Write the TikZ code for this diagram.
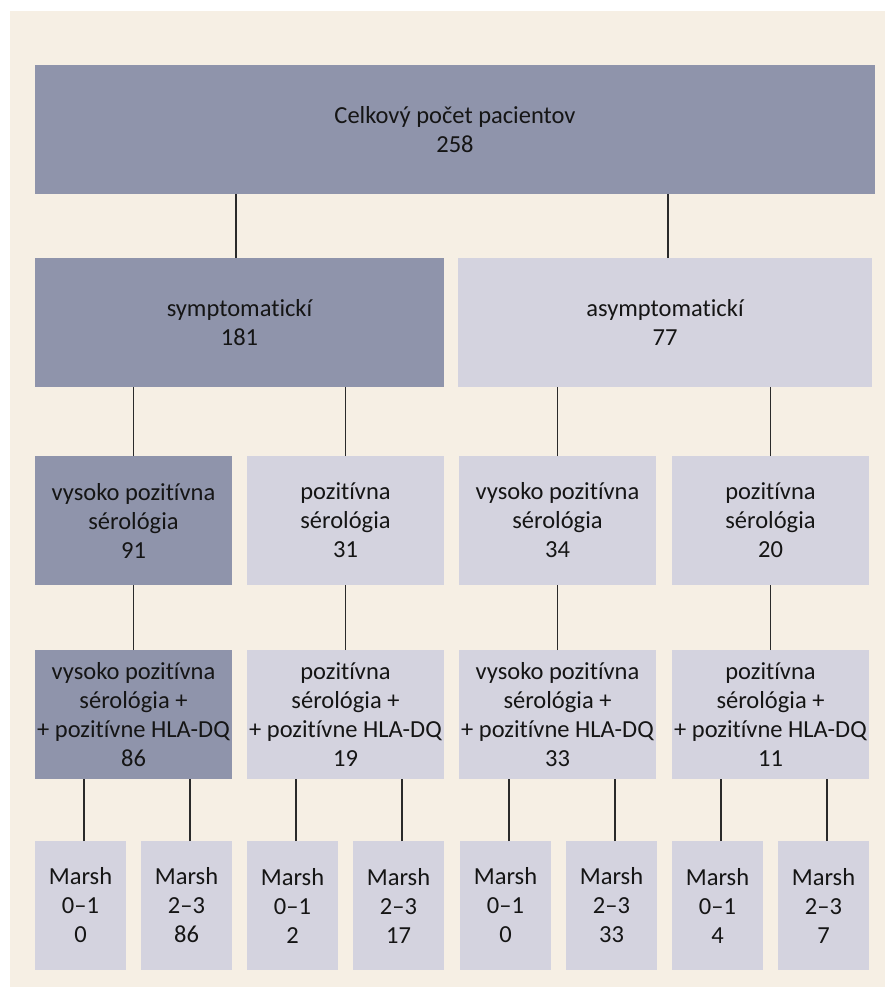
\documentclass[tikz,border=0pt]{standalone}
\usepackage{fontspec}
\setmainfont{Carlito}[Ligatures={NoCommon}]
\definecolor{bgc}{HTML}{F6EFE4}
\definecolor{darkbox}{HTML}{8F94AB}
\definecolor{lightbox}{HTML}{D4D3DF}
\definecolor{linec}{HTML}{2A2A2A}
\definecolor{txtc}{HTML}{151515}
\begin{document}
\begin{tikzpicture}[x=1pt,y=-1pt,
  box/.style={rectangle,inner sep=0pt,outer sep=0pt,align=center,text=txtc,
    font=\fontsize{24.5}{29}\selectfont},
  dbox/.style={box,fill=darkbox},
  lbox/.style={box,fill=lightbox},
  wide/.style={minimum width=#1,minimum height=129},
  conn/.style={draw=linec,line width=1.1pt}]
\useasboundingbox (0,0) rectangle (885,987);
\fill[bgc] (10,11) rectangle (885,987);
% level 1
\node[dbox,wide=840] (top) at (455,129.5) {Celkový počet pacientov\\258};
% level 2
\node[dbox,wide=409] (sym) at (239.5,322.5) {symptomatickí\\181};
\node[lbox,wide=414] (asym) at (665,322.5) {asymptomatickí\\77};
% level 3
\node[dbox,wide=197] (a3) at (133.5,520.5) {vysoko pozitívna\\sérológia\\91};
\node[lbox,wide=197] (b3) at (345.5,520.5) {pozitívna\\sérológia\\31};
\node[lbox,wide=197] (c3) at (557.5,520.5) {vysoko pozitívna\\sérológia\\34};
\node[lbox,wide=197] (d3) at (770.5,520.5) {pozitívna\\sérológia\\20};
% level 4
\node[dbox,wide=197] (a4) at (133.5,714.5) {vysoko pozitívna\\sérológia +\\+ pozitívne HLA-DQ\\86};
\node[lbox,wide=197] (b4) at (345.5,714.5) {pozitívna\\sérológia +\\+ pozitívne HLA-DQ\\19};
\node[lbox,wide=197] (c4) at (557.5,714.5) {vysoko pozitívna\\sérológia +\\+ pozitívne HLA-DQ\\33};
\node[lbox,wide=197] (d4) at (770.5,714.5) {pozitívna\\sérológia +\\+ pozitívne HLA-DQ\\11};
% level 5
\node[lbox,wide=91] (m1) at (80.5,905.5) {Marsh\\0–1\\0};
\node[lbox,wide=91] (m2) at (186.5,905.5) {Marsh\\2–3\\86};
\node[lbox,wide=91] (m3) at (292.5,905.5) {Marsh\\0–1\\2};
\node[lbox,wide=91] (m4) at (398.5,905.5) {Marsh\\2–3\\17};
\node[lbox,wide=91] (m5) at (505.5,905.5) {Marsh\\0–1\\0};
\node[lbox,wide=91] (m6) at (611.5,905.5) {Marsh\\2–3\\33};
\node[lbox,wide=91] (m7) at (717.5,905.5) {Marsh\\0–1\\4};
\node[lbox,wide=91] (m8) at (823.5,905.5) {Marsh\\2–3\\7};
% connectors level 1 -> 2
\draw[conn] ([xshift=-3.5pt]sym.north) -- ([xshift=-3.5pt]sym.north |- top.south);
\draw[conn] ([xshift=3pt]asym.north) -- ([xshift=3pt]asym.north |- top.south);
% level 2 -> 3
\foreach \n/\p in {a3/sym,b3/sym,c3/asym,d3/asym}
  \draw[conn] (\n.north) -- (\n.north |- \p.south);
% level 3 -> 4
\foreach \n/\p in {a4/a3,b4/b3,c4/c3,d4/d3}
  \draw[conn] (\n.north) -- (\n.north |- \p.south);
% level 4 -> 5
\foreach \n/\p in {m1/a4,m2/a4,m3/b4,m4/b4,m5/c4,m6/c4,m7/d4,m8/d4}
  \draw[conn] ([xshift=3.5pt]\n.north) -- ([xshift=3.5pt]\n.north |- \p.south);
\end{tikzpicture}
\end{document}
